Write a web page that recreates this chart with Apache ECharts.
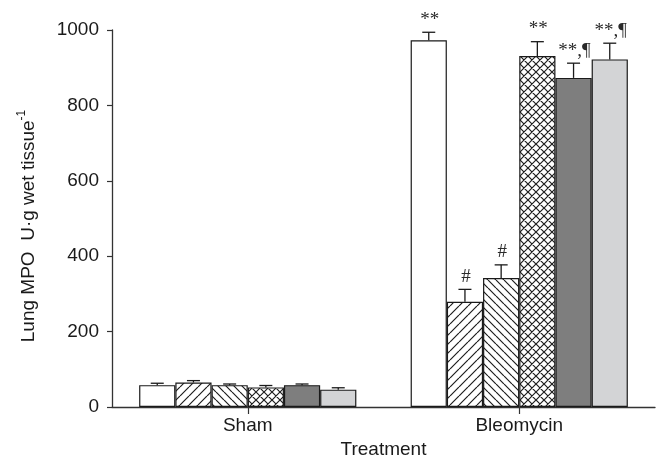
<!DOCTYPE html>
<html>
<head>
<meta charset="utf-8">
<script src="https://cdn.jsdelivr.net/npm/echarts@6/dist/echarts.min.js"></script>
<style>
html,body{margin:0;padding:0;background:#fff;}
#chart{width:658px;height:459px;}
</style>
</head>
<body>
<div id="chart"></div>
<script>
// ---- data ----
const categories = ['Sham', 'Bleomycin'];
const yTicks = [0, 200, 400, 600, 800, 1000];
const shamMeans = [58, 65, 58, 52, 58, 46];
const shamErr = [5, 5, 3, 5, 3, 5];
const bleoMeans = [973, 279, 342, 931, 873, 922];
const bleoErr = [21, 33, 35, 38, 39, 43];
const shamMarks = ['', '', '', '', '', ''];
const bleoMarks = ['**', '#', '#', '**', '**,\u00B6', '**,\u00B6'];
const seriesNames = ['T1', 'T2', 'T3', 'T4', 'T5', 'T6'];

// ---- patterns ----
function makePattern(kind) {
  const s = kind === 'cross' ? 8 : (kind === 'slash' ? 9 : 8);
  const c = document.createElement('canvas');
  c.width = s; c.height = s;
  const g = c.getContext('2d');
  g.fillStyle = '#fff';
  g.fillRect(0, 0, s, s);
  g.strokeStyle = '#1e1e1e';
  g.lineWidth = 1.2;
  g.beginPath();
  for (const k of [-s, 0, s]) {
    if (kind === 'slash' || kind === 'cross') {
      g.moveTo(k, s); g.lineTo(k + s, 0);
    }
    if (kind === 'back' || kind === 'cross') {
      g.moveTo(k, 0); g.lineTo(k + s, s);
    }
  }
  g.stroke();
  return { image: c, repeat: 'repeat' };
}

const fills = [
  '#ffffff',
  makePattern('slash'),
  makePattern('back'),
  makePattern('cross'),
  '#7e7e7e',
  '#d3d4d6'
];

const FONT = '"Liberation Sans", Arial, sans-serif';
const chart = echarts.init(document.getElementById('chart'), null, { renderer: 'canvas' });

const barSeries = seriesNames.map((name, i) => ({
  name: name,
  type: 'bar',
  barGap: '0%',
  barCategoryGap: '20%',
  data: [shamMeans[i], bleoMeans[i]],
  itemStyle: { color: fills[i], borderColor: '#1a1a1a', borderWidth: 1.2 },
  silent: true,
  animation: false
}));

const errData = [];
const errMarks = [];
seriesNames.forEach((n, i) => {
  errData.push([0, shamMeans[i], shamErr[i], i]);
  errMarks.push(shamMarks[i]);
  errData.push([1, bleoMeans[i], bleoErr[i], i]);
  errMarks.push(bleoMarks[i]);
});

const errSeries = {
  type: 'custom',
  z: 10,
  animation: false,
  silent: true,
  encode: { x: 0, y: 1 },
  data: errData,
  renderItem: function (params, api) {
    const cat = api.value(0), val = api.value(1), err = api.value(2), si = api.value(3);
    const center = api.coord([cat, 0]);
    const bandW = api.size([1, 0])[0];
    const bw = bandW * 0.8 / 6;
    const x = center[0] + (si - 2.5) * bw;
    const yTop = api.coord([cat, val])[1];
    const yErr = api.coord([cat, val + err])[1];
    const lineStyle = { stroke: '#1a1a1a', lineWidth: 1.3 };
    const children = [
      { type: 'line', shape: { x1: x, y1: yTop, x2: x, y2: yErr }, style: lineStyle },
      { type: 'line', shape: { x1: x - 6.5, y1: yErr, x2: x + 6.5, y2: yErr }, style: lineStyle }
    ];
    const mark = errMarks[params.dataIndex];
    if (mark) {
      children.push({
        type: 'text',
        style: {
          text: mark, x: x + 1, y: yErr - 3,
          align: 'center', verticalAlign: 'bottom',
          font: '19px "Liberation Serif", "DejaVu Serif", serif',
          fill: '#2a2a2a'
        }
      });
    }
    return { type: 'group', children: children };
  }
};

chart.setOption({
  animation: false,
  backgroundColor: '#ffffff',
  grid: { left: 112, right: 3, top: 30, bottom: 52, containLabel: false, outerBoundsMode: 'none' },
  xAxis: {
    type: 'category',
    data: categories,
    name: 'Treatment',
    nameLocation: 'middle',
    nameGap: 30,
    nameTextStyle: { fontFamily: FONT, fontSize: 19, color: '#1a1a1a' },
    axisLine: { show: true, lineStyle: { color: '#333', width: 1.3 } },
    axisTick: { show: true, alignWithLabel: true, length: 7, lineStyle: { color: '#333', width: 1.2 } },
    axisLabel: { margin: 9, fontFamily: FONT, fontSize: 19, color: '#1a1a1a' },
    splitLine: { show: false }
  },
  yAxis: {
    type: 'value',
    min: yTicks[0],
    max: yTicks[yTicks.length - 1],
    interval: yTicks[1] - yTicks[0],
    axisLine: { show: true, lineStyle: { color: '#333', width: 1.3 } },
    axisTick: { show: true, length: 5, lineStyle: { color: '#333', width: 1.2 } },
    axisLabel: { margin: 13, fontFamily: FONT, fontSize: 19, color: '#1a1a1a', formatter: function (v) { return String(v); } },
    splitLine: { show: false }
  },
  graphic: [{
    type: 'text',
    x: 27, y: 226,
    rotation: Math.PI / 2,
    style: {
      text: '{a|Lung MPO  U\u00B7g wet tissue}{s|-1}',
      align: 'center', verticalAlign: 'middle',
      rich: {
        a: { fontFamily: FONT, fontSize: 19, fill: '#1a1a1a', lineHeight: 22, verticalAlign: 'bottom' },
        s: { fontFamily: FONT, fontSize: 12, fill: '#1a1a1a', lineHeight: 22, verticalAlign: 'top' }
      }
    }
  }],
  series: barSeries.concat([errSeries])
});
</script>
</body>
</html>
